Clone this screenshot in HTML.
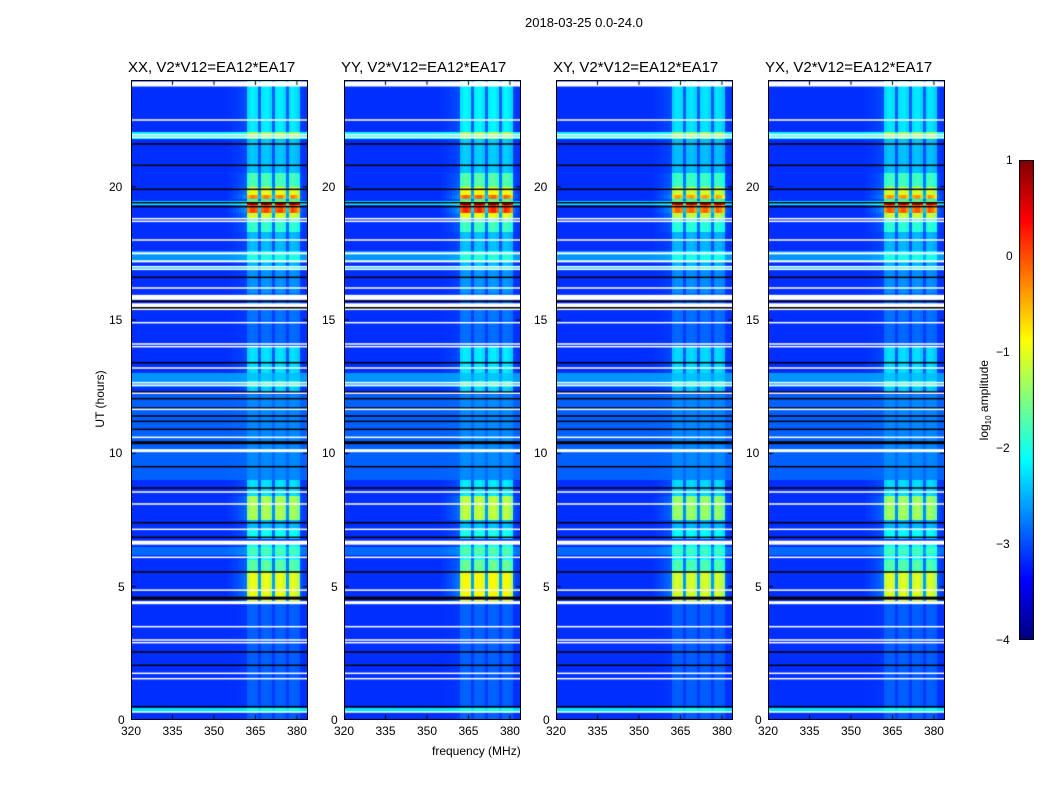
<!DOCTYPE html>
<html><head><meta charset="utf-8">
<style>
body{margin:0;background:#fff;font-family:"Liberation Sans",sans-serif;}
#root{position:relative;width:1050px;height:800px;overflow:hidden;}
.t{position:absolute;font-size:12px;color:#000;white-space:nowrap;}
.title{position:absolute;font-size:15px;white-space:nowrap;}
canvas{position:absolute;}
.frame{position:absolute;border:1px solid #000;box-sizing:border-box;}
</style></head>
<body><div id="root">
<div class="t" style="left:525px;top:15px;font-size:13px">2018-03-25 0.0-24.0</div>
<div class="t" style="left:432px;top:744px;font-size:12px">frequency (MHz)</div>
<div class="t" style="left:60px;top:392px;transform:rotate(-90deg);transform-origin:center;width:80px;text-align:center">UT (hours)</div>
<div class="t" style="left:930px;top:392px;transform:rotate(-90deg);width:110px;text-align:center">log<sub style="font-size:8px">10</sub> amplitude</div>
</div>
<script>
// ---- data ----
const panelTitles=["XX, V2*V12=EA12*EA17","YY, V2*V12=EA12*EA17","XY, V2*V12=EA12*EA17","YX, V2*V12=EA12*EA17"];
const panelGain=[1.0,1.05,0.95,0.97];
const xTicks=[320,335,350,365,380];
const yTicks=[0,5,10,15,20];
const cbTicks=[1,0,-1,-2,-3,-4];
const baseLevel=-3.15;
// frequency channel profile (1 MHz bins from 320 MHz)
const chanStart=[320,321,322,323,324,325,326,327,328,329,330,331,332,333,334,335,336,337,338,339,340,341,342,343,344,345,346,347,348,349,350,351,352,353,354,355,356,357,358,359,360,361,362,363,364,365,366,367,368,369,370,371,372,373,374,375,376,377,378,379,380,381,382,383];
const chanGain=[0,0,0,0,0,0,0,0,0,0,0,0,0,0,0,0,0,0,0,0,0,0,0,0,0,0,0,0,0,0,0,0,0,0,0,0.02,0.03,0.05,0.07,0.1,0.12,0.15,0.9,1.0,1.0,0.95,0.25,0.95,1.0,1.0,0.9,0.25,0.95,1.0,1.0,0.9,0.25,0.9,1.0,0.95,0.85,0.1,0.05,0.02];
// RFI intensity segments [t0,t1,amp]
const rfiT0=[0,4.45,5.55,6.0,6.8,7.2,7.5,8.4,9.0,12.3,12.7,13.0,14.0,15.0,16.0,17.0,18.3,18.8,19.0,19.4,19.55,19.7,20.0,20.5,22.0];
const rfiT1=[4.45,5.55,6.0,6.6,7.2,7.5,8.4,9.0,12.3,12.7,13.0,14.0,15.0,16.0,17.0,18.3,18.8,19.0,19.4,19.55,19.7,20.0,20.5,22.0,24.0];
const rfiAmp=[0.25,2.2,1.5,1.1,1.1,0.7,1.9,0.9,0.2,0.8,0.25,0.9,0.3,0.35,0.5,0.7,1.3,2.1,3.2,1.2,2.9,2.2,1.4,0.75,0.95];
// base-level bands [t0,t1,offset]
const bandT0=[0.3,6.2,9.0,12.5,16.9,17.2,19.3,21.8];
const bandT1=[0.45,6.5,12.2,13.0,17.0,17.6,19.45,22.05];
const bandOff=[0.9,0.3,0.25,0.5,0.7,0.5,0.9,1.0];
// flagged times [hour], color, thickness(px)
const flagT=[23.85,22.5,21.95,21.85,21.6,20.8,19.9,19.4,19.25,18.8,18.7,18.0,17.5,17.2,17.0,16.9,16.6,16.2,15.85,15.7,15.55,15.45,15.4,14.9,14.1,14.0,13.4,13.2,12.65,12.55,12.3,12.25,12.05,11.7,11.65,11.4,11.2,10.9,10.6,10.4,10.1,9.5,8.7,8.55,8.1,7.4,7.15,6.85,6.65,6.1,5.55,4.87,4.57,4.4,3.5,3.0,2.9,2.55,2.05,1.75,1.55,0.5,0.3];
const flagC=["w","w","w","w","k","k","k","k","k","w","w","w","w","w","w","w","k","w","w","k","w","k","w","w","w","w","k","w","w","w","k","w","k","k","w","k","k","k","w","k","w","k","k","w","w","k","w","k","w","w","k","w","k","w","w","w","w","k","k","w","w","k","w"];
const flagH=[5,1.5,1.5,1.5,1.5,1.5,1.5,1.5,1.5,1.5,1.5,1.5,2,2,1.5,1.5,1.5,1.5,5,1.5,4,2,1.5,1.5,1.5,1.5,1.5,1.5,1.5,1.5,1.5,1.5,1.5,1.5,1.5,1.5,1.5,1.5,1.5,3,3,1.5,1.5,1.5,1.5,1.5,1.5,1.5,4,1.5,1.5,1.5,3,3,1.5,1.5,1.5,1.5,1.5,1.5,1.5,1.5,1.5];

// ---- layout ----
const panelX=[131,344,556,768], PW=177, PT=80, PH=640;
const fMin=320,fMax=384,tMin=0,tMax=24,vMin=-4,vMax=1;
const xs=(f,p)=>panelX[p]+(f-fMin)/(fMax-fMin)*PW;
const ys=t=>PT+PH-(t-tMin)/(tMax-tMin)*PH;
function jet(v){let x=(v-vMin)/(vMax-vMin);x=Math.max(0,Math.min(1,x));
 const c=t=>Math.round(255*Math.max(0,Math.min(1,1.5-Math.abs(4*x-t))));
 return [c(3),c(2),c(1)];}
const root=document.getElementById('root');
function rfiAt(t){for(let i=0;i<rfiT0.length;i++)if(t>=rfiT0[i]&&t<rfiT1[i])return rfiAmp[i];return 0;}
function bandAt(t){let o=0;for(let i=0;i<bandT0.length;i++)if(t>=bandT0[i]&&t<bandT1[i])o=bandOff[i];return o;}
function txt(s,l,tp,name,extra){const d=document.createElement('div');d.className='t';d.textContent=s;d.style.left=l+'px';d.style.top=tp+'px';if(extra)d.style.cssText+=extra;


root.appendChild(d);return d;}
for(let p=0;p<4;p++){
 const cv=document.createElement('canvas');cv.width=PW;cv.height=PH;
 cv.style.left=panelX[p]+'px';cv.style.top=PT+'px';
 
 
 root.appendChild(cv);
 const ctx=cv.getContext('2d');const img=ctx.createImageData(PW,PH);
 for(let y=0;y<PH;y++){const t=tMax-(y+0.5)/PH*(tMax-tMin);const r=rfiAt(t)*panelGain[p],b=bandAt(t);
  for(let c=0;c<chanStart.length;c++){
   const v=baseLevel+b+r*chanGain[c];const col=jet(v);
   const x0=Math.round(xs(chanStart[c],p)-panelX[p]),x1=Math.round(xs(chanStart[c]+1,p)-panelX[p]);
   for(let x=x0;x<x1&&x<PW;x++){const k=(y*PW+x)*4;img.data[k]=col[0];img.data[k+1]=col[1];img.data[k+2]=col[2];img.data[k+3]=255;}
  }}
 ctx.putImageData(img,0,0);
 for(let i=0;i<flagT.length;i++){ctx.fillStyle=flagC[i]=='w'?'#fff':'#000';const yy=ys(flagT[i])-PT;ctx.fillRect(0,yy-flagH[i]/2,PW,flagH[i]);}
 ctx.fillStyle='#000';
 xTicks.forEach(f=>{const x=xs(f,p)-panelX[p];ctx.fillRect(x-0.5,0,1,5);ctx.fillRect(x-0.5,PH-5,1,5);});
 yTicks.forEach(t=>{const y=ys(t)-PT;ctx.fillRect(0,y-0.5,5,1);ctx.fillRect(PW-5,y-0.5,5,1);});
 const fr=document.createElement('div');fr.className='frame';fr.style.cssText+=`left:${panelX[p]}px;top:${PT}px;width:${PW}px;height:${PH}px`;
 
 
 root.appendChild(fr);
 const ti=document.createElement('div');ti.className='title';ti.textContent=panelTitles[p];
 ti.style.left=(panelX[p]-3)+'px';ti.style.top='59px';
 
 
 root.appendChild(ti);
 xTicks.forEach(f=>txt(String(f),xs(f,p)-10,724,'x-tick-label'));
 yTicks.forEach(t=>txt(String(t),panelX[p]-(t>=10?22:13),ys(t)-7,'y-tick-label'));
}
// colorbar
const cb=document.createElement('canvas');cb.width=15;cb.height=480;cb.style.left='1019px';cb.style.top='160px';


root.appendChild(cb);
const cc=cb.getContext('2d');
for(let y=0;y<480;y++){const v=vMax-(y+0.5)/480*(vMax-vMin);const c=jet(v);cc.fillStyle=`rgb(${c[0]},${c[1]},${c[2]})`;cc.fillRect(0,y,15,1);}
cc.strokeStyle='#000';cc.strokeRect(0.5,0.5,14,479);
cbTicks.forEach(v=>{const y=160+(vMax-v)/(vMax-vMin)*480;txt(v<0?'\u2212'+(-v):String(v),v<0?996:1006,y-7,'colorbar-tick-label');});
</script>
</body></html>
